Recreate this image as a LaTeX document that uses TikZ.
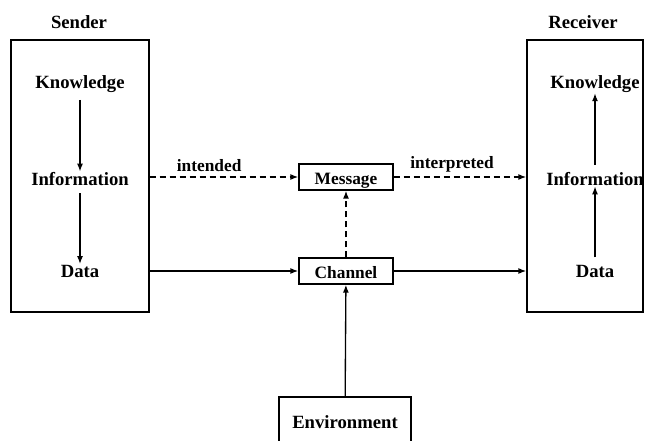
\documentclass[tikz,border=0pt]{standalone}
\usepackage{fontspec}
\setmainfont{Liberation Serif}
\usetikzlibrary{arrows.meta}
\tikzset{
  lbl/.style={font=\bfseries\fontsize{14}{16}\selectfont},
  smalllbl/.style={font=\bfseries\fontsize{13}{15}\selectfont},
  party/.style={draw, line width=1pt, minimum height=204pt},
  box/.style={draw, line width=1pt, smalllbl, text height=11pt, text depth=0pt, minimum width=70.5pt, minimum height=19.5pt},
  flow/.style={line width=1pt, -{Latex[length=6pt,width=4.5pt]}},
  hint/.style={flow, dash pattern=on 4.5pt off 3pt},
}
\begin{document}
\begin{tikzpicture}[x=0.75pt, y=-0.75pt]
\useasboundingbox (0,0) rectangle (654,441);
% the two parties
\node[party, minimum width=103.5pt] (sender) at (80,176) {};
\node[party, minimum width=87pt] (receiver) at (585,176) {};
\node[lbl] (sendername) at (79,22) {Sender};
\node[lbl] (receivername) at (583,22) {Receiver};
\foreach \side/\x in {s/80,r/595} {
  \node[lbl] (\side know) at (\x,84) {Knowledge};
  \node[lbl] (\side info) at (\x,179) {Information};
  \node[lbl] (\side data) at (\x,271) {Data};
}
\draw[flow, shorten <=2pt, shorten >=-3pt] (sknow) -- (sinfo);
\draw[flow, shorten <=2pt, shorten >=-3pt] (sinfo) -- (sdata);
\draw[flow, shorten <=2pt, shorten >=-3pt] (rdata) -- (rinfo);
\draw[flow, shorten <=2pt, shorten >=-3pt] (rinfo) -- (rknow);
% middle
\node[box] (message) at (346,177) {Message};
\node[box] (channel) at (346,271) {Channel};
\node[box, lbl, minimum width=99pt, minimum height=36pt] (environment) at (345,421) {Environment};
\draw[hint] (sender.east |- message) -- node[smalllbl, above, pos=0.4] (intended) {intended} (message);
\draw[hint] (message) -- node[smalllbl, above, pos=0.44] (interpreted) {interpreted} (receiver.west |- message);
\draw[hint] (channel) -- (message);
\draw[flow] (sender.east |- channel) -- (channel);
\draw[flow] (channel) -- (receiver.west |- channel);
\draw[flow] (environment) -- (channel);
\end{tikzpicture}
\end{document}
